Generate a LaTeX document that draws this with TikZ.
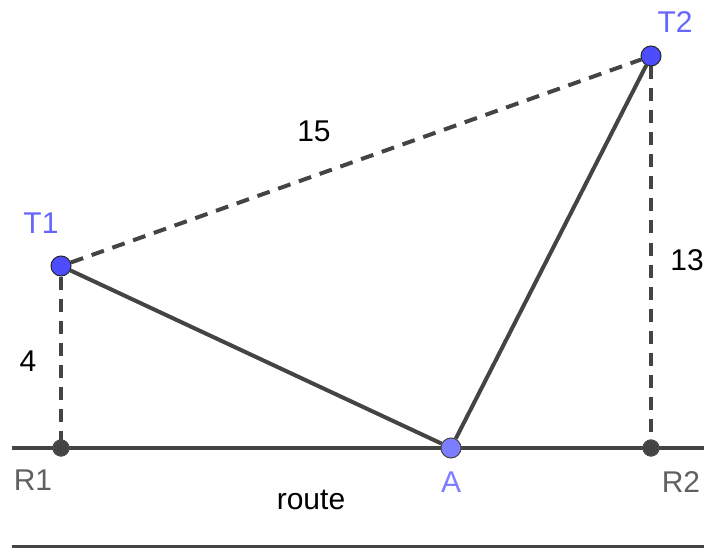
\documentclass[tikz,border=0pt]{standalone}
\usepackage{fontspec}
\setmainfont{Liberation Sans}
\usetikzlibrary{positioning}
\definecolor{segGray}{HTML}{444444}
\definecolor{ptBlue}{HTML}{4D4DFF}
\definecolor{ptLight}{HTML}{7D7DFF}
\definecolor{lblBlue}{HTML}{6666FF}
\definecolor{lblGray}{HTML}{606060}

\begin{document}
\begin{tikzpicture}[
  x=1pt, y=-1pt,
  seg/.style={draw=segGray, line width=4pt},
  dashseg/.style={seg, dash pattern=on 13pt off 9pt},
  dot/.style={circle, draw=black!85, line width=1pt, inner sep=0pt, minimum size=20pt},
  freedot/.style={dot, fill=ptBlue},
  movedot/.style={dot, fill=ptLight, draw=segGray},
  fixdot/.style={dot, fill=segGray, minimum size=16pt, draw=black!70},
  txt/.style={font=\fontsize{30}{36}\selectfont, inner sep=0pt}
]
\useasboundingbox (0,0) rectangle (704,548);

% points
\coordinate (routeL) at (12,448);
\coordinate (routeR) at (704,448);
\coordinate (baseL) at (12,546);
\coordinate (baseR) at (704,546);

\node[fixdot] (R1) at (61,448) {};
\node[fixdot] (R2) at (651,448) {};

% route line and the line below
\draw[seg] (routeL) -- (routeR);
\draw[seg, line width=3pt] (baseL) -- (baseR);

\node[freedot, fill=none, draw=none] (T1) at (61,266) {};
\node[freedot, fill=none, draw=none] (T2) at (651,56) {};
\node[movedot, fill=none, draw=none] (A) at (451,448) {};

% distances
\draw[dashseg] (T1) -- (R1);
\draw[dashseg] (T2) -- (R2);
\draw[dashseg] (T1) -- (T2);

% path through A
\draw[seg] (T1) -- (A);
\draw[seg] (A) -- (T2);

% dots on top
\node[fixdot] at (R1) {};
\node[fixdot] at (R2) {};
\node[freedot] at (T1) {};
\node[freedot] at (T2) {};
\node[movedot] at (A) {};

% labels
\node[txt, text=lblBlue] (lT1) at (41,223) {T1};
\node[txt, text=lblBlue] (lT2) at (675,22) {T2};
\node[txt, text=ptLight] (lA) at (451,482) {A};
\node[txt, text=lblGray] (lR1) at (33,480) {R1};
\node[txt, text=lblGray] (lR2) at (681,482) {R2};
\node[txt] (d15) at (314,131) {15};
\node[txt] (d13) at (687,260) {13};
\node[txt] (d4) at (28,361) {4};
\node[txt] (road) at (311,500) {route};
\end{tikzpicture}
\end{document}
